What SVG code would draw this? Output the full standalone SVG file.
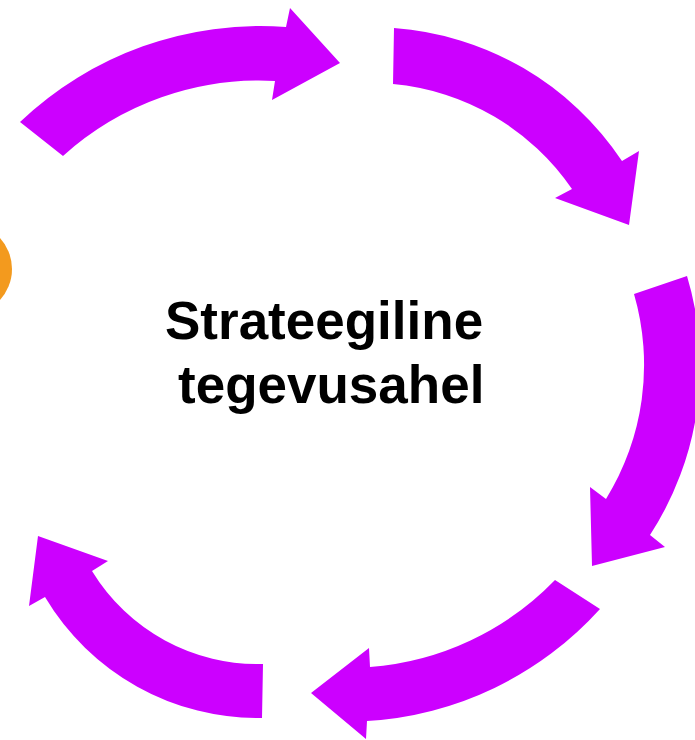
<svg xmlns="http://www.w3.org/2000/svg" width="695" height="740" viewBox="0 0 695 740">
<style>
.arrow{fill:#CC00FF;stroke:none}
.title{font-family:"Liberation Sans",Arial,sans-serif;font-weight:bold;font-size:53px;fill:#000}
</style>
<rect width="695" height="740" fill="#fff"/>
<g id="orange-dot"><circle cx="-34" cy="269" r="46" fill="#F39A1E"/></g>
<g id="connectors">
<path id="arrow1" class="arrow" d="M20,122 A348,348 0 0 1 286,27 L290,8 L340,63 L272,100 L275,81 A293,293 0 0 0 63,156 Z"/>
<path id="arrow2" class="arrow" d="M394,28 A300,300 0 0 1 622,161 L639,151 L629,225 L555,198 L572,189 A244,244 0 0 0 393,84 Z"/>
<path id="arrow3" class="arrow" d="M687,276 A311,311 0 0 1 650,535 L665,547 L592,566 L590,487 L606,499 A255,255 0 0 0 634,294 Z"/>
<path id="arrow4" class="arrow" d="M600,609 A341,341 0 0 1 367,721 L366,739 L311,693 L369,648 L370,667 A288,288 0 0 0 555,580 Z"/>
<path id="arrow5" class="arrow" d="M262,718 A248,248 0 0 1 45,597 L29,606 L38,536 L108,561 L92,571 A194,194 0 0 0 263,664 Z"/>
</g>
<g id="center-label">
<text class="title" x="165" y="339">Strateegiline</text>
<text class="title" x="178" y="403">tegevusahel</text>
</g>
</svg>
